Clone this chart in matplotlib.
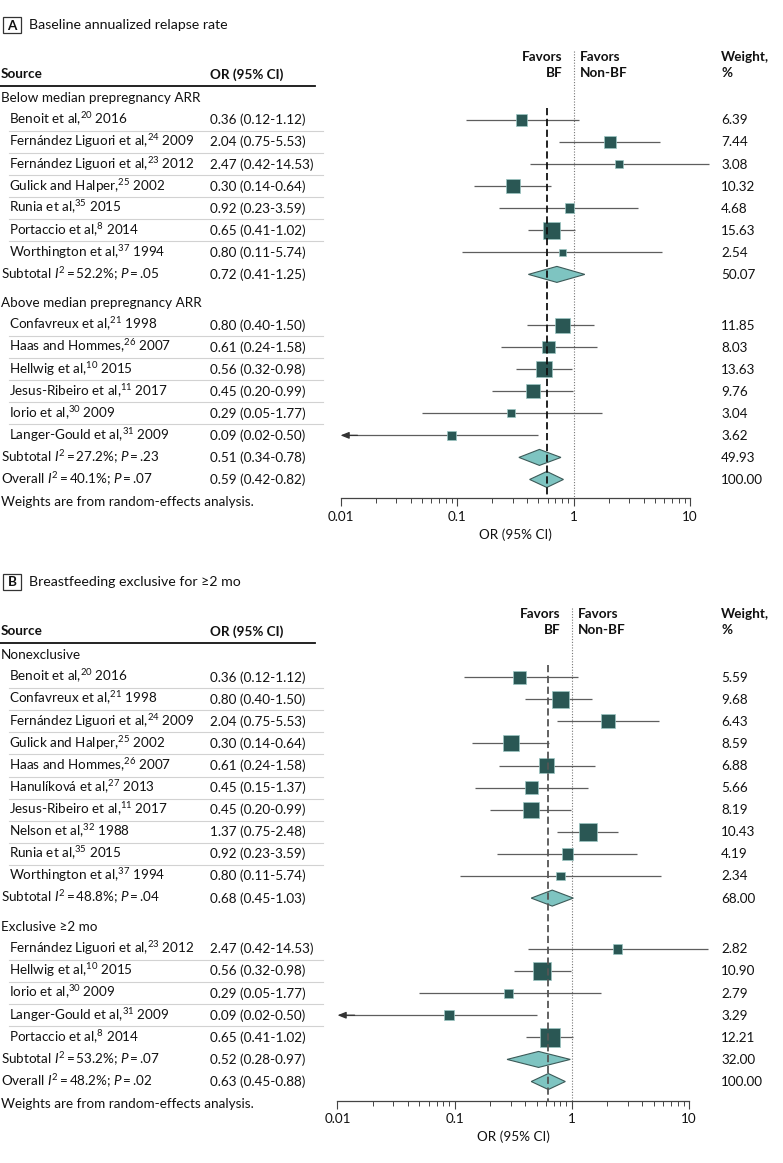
import numpy as np
import matplotlib
matplotlib.use('Agg')
import matplotlib.pyplot as plt
from matplotlib.patches import Polygon, Rectangle
from matplotlib.ticker import FixedLocator, FuncFormatter, LogLocator, NullFormatter

plt.rcParams['font.family'] = ['Lato', 'DejaVu Sans']
plt.rcParams['mathtext.fontset'] = 'custom'
plt.rcParams['mathtext.rm'] = 'Lato'
plt.rcParams['mathtext.it'] = 'Lato:italic'
plt.rcParams['mathtext.bf'] = 'Lato:bold'

W, H = 783, 1163
FS = 9.75

# ── Panel A: baseline annualized relapse rate ─────────────────────────────
a_groups = ['Below median prepregnancy ARR', 'Above median prepregnancy ARR']
a_names = ['Benoit et al', 'Fernández Liguori et al', 'Fernández Liguori et al',
           'Gulick and Halper', 'Runia et al', 'Portaccio et al', 'Worthington et al',
           'Confavreux et al', 'Haas and Hommes', 'Hellwig et al',
           'Jesus-Ribeiro et al', 'Iorio et al', 'Langer-Gould et al']
a_refs = [20, 24, 23, 25, 35, 8, 37, 21, 26, 10, 11, 30, 31]
a_years = [2016, 2009, 2012, 2002, 2015, 2014, 1994, 1998, 2007, 2015, 2017, 2009, 2009]
a_or = [0.36, 2.04, 2.47, 0.30, 0.92, 0.65, 0.80, 0.80, 0.61, 0.56, 0.45, 0.29, 0.09]
a_lo = [0.12, 0.75, 0.42, 0.14, 0.23, 0.41, 0.11, 0.40, 0.24, 0.32, 0.20, 0.05, 0.02]
a_hi = [1.12, 5.53, 14.53, 0.64, 3.59, 1.02, 5.74, 1.50, 1.58, 0.98, 0.99, 1.77, 0.50]
a_wt = [6.39, 7.44, 3.08, 10.32, 4.68, 15.63, 2.54, 11.85, 8.03, 13.63, 9.76, 3.04, 3.62]
a_grp = [0, 0, 0, 0, 0, 0, 0, 1, 1, 1, 1, 1, 1]
a_sub_i2 = ['52.2', '27.2']
a_sub_p = ['.05', '.23']
a_sub_or = [0.72, 0.51]
a_sub_lo = [0.41, 0.34]
a_sub_hi = [1.25, 0.78]
a_sub_wt = [50.07, 49.93]
a_all = ['40.1', '.07', 0.59, 0.42, 0.82]

# ── Panel B: breastfeeding exclusive for >=2 mo ───────────────────────────
b_groups = ['Nonexclusive', 'Exclusive ≥2 mo']
b_names = ['Benoit et al', 'Confavreux et al', 'Fernández Liguori et al',
           'Gulick and Halper', 'Haas and Hommes', 'Hanulíková et al',
           'Jesus-Ribeiro et al', 'Nelson et al', 'Runia et al', 'Worthington et al',
           'Fernández Liguori et al', 'Hellwig et al', 'Iorio et al',
           'Langer-Gould et al', 'Portaccio et al']
b_refs = [20, 21, 24, 25, 26, 27, 11, 32, 35, 37, 23, 10, 30, 31, 8]
b_years = [2016, 1998, 2009, 2002, 2007, 2013, 2017, 1988, 2015, 1994,
           2012, 2015, 2009, 2009, 2014]
b_or = [0.36, 0.80, 2.04, 0.30, 0.61, 0.45, 0.45, 1.37, 0.92, 0.80,
        2.47, 0.56, 0.29, 0.09, 0.65]
b_lo = [0.12, 0.40, 0.75, 0.14, 0.24, 0.15, 0.20, 0.75, 0.23, 0.11,
        0.42, 0.32, 0.05, 0.02, 0.41]
b_hi = [1.12, 1.50, 5.53, 0.64, 1.58, 1.37, 0.99, 2.48, 3.59, 5.74,
        14.53, 0.98, 1.77, 0.50, 1.02]
b_wt = [5.59, 9.68, 6.43, 8.59, 6.88, 5.66, 8.19, 10.43, 4.19, 2.34,
        2.82, 10.90, 2.79, 3.29, 12.21]
b_grp = [0, 0, 0, 0, 0, 0, 0, 0, 0, 0, 1, 1, 1, 1, 1]
b_sub_i2 = ['48.8', '53.2']
b_sub_p = ['.04', '.07']
b_sub_or = [0.68, 0.52]
b_sub_lo = [0.45, 0.28]
b_sub_hi = [1.03, 0.97]
b_sub_wt = [68.00, 32.00]
b_all = ['48.2', '.02', 0.63, 0.45, 0.88]

SQ_COL = '#2a5754'
DIA_COL = '#7ec4c1'
CI_COL = '#5e5e5e'
TXT_COL = '#111111'
TRUNC_BELOW = 0.025   # lower CI drawn as an arrow to the axis edge

fig = plt.figure(figsize=(W / 100, H / 100), dpi=100)
tx = fig.add_axes([0, 0, 1, 1])
tx.set_xlim(0, W)
tx.set_ylim(H, 0)
tx.axis('off')


def row_text(x, y, s, **kw):
    # y is the visual centre of the row; place baseline slightly below
    tx.text(x, y + 4.4, s, fontsize=FS, va='baseline', color=TXT_COL, **kw)


def draw_panel(letter, title, y0, d, pitch, sq_k, x_l, x_r, dash_style):
    # titles and headers
    tx.add_patch(Rectangle((3, y0 - 8), 18, 16, fill=False, ec='#333333', lw=0.9))
    tx.text(12, y0 + 0.5, letter, fontsize=FS, fontweight='bold', ha='center',
            va='center', color=TXT_COL)
    tx.text(29, y0 + 4.4, title, fontsize=FS + 0.4, va='baseline', color=TXT_COL)
    x1 = x_l + (x_r - x_l) * 2 / 3
    fav_y, bf_y = y0 + 32, y0 + 48
    for yy, s in [(fav_y, 'Favors'), (bf_y, 'BF')]:
        row_text(x1 - 11, yy, s, ha='right', fontweight='bold')
    for yy, s in [(fav_y, 'Favors'), (bf_y, 'Non-BF')]:
        row_text(x1 + 6, yy, s, fontweight='bold')
    row_text(721, fav_y, 'Weight,', fontweight='bold')
    row_text(721, bf_y, '%', fontweight='bold')
    row_text(1, y0 + 49, 'Source', fontweight='bold')
    row_text(210, y0 + 49, 'OR (95% CI)', fontweight='bold')
    tx.plot([0, 315], [y0 + 61] * 2, color='#111111', lw=1.3)

    # row positions
    y = y0 + 73
    study_y, sub_y, grp_y = {}, [], []
    for g in range(len(d['groups'])):
        grp_y.append(y)
        idx = [i for i, gg in enumerate(d['grp']) if gg == g]
        for i in idx:
            y += pitch
            study_y[i] = y
        y += pitch
        sub_y.append(y)
        y += pitch * 1.3
    all_y = sub_y[-1] + pitch
    note_y = all_y + pitch
    axis_y = all_y + 19
    top_y = fav_y - 7

    ax = fig.add_axes([x_l / W, 1 - axis_y / H, (x_r - x_l) / W, (axis_y - top_y) / H])
    ax.patch.set_visible(False)
    ax.set_xscale('log')
    ax.set_xlim(0.01, 10)
    ax.set_ylim(axis_y, top_y)
    for sp in ['top', 'left', 'right']:
        ax.spines[sp].set_visible(False)
    ax.spines['bottom'].set_color('#444444')
    ax.spines['bottom'].set_linewidth(0.9)
    ax.xaxis.set_major_locator(FixedLocator([0.01, 0.1, 1, 10]))
    ax.xaxis.set_major_formatter(FuncFormatter(lambda v, p: f'{v:g}'))
    ax.xaxis.set_minor_locator(LogLocator(base=10, subs=np.arange(2, 10)))
    ax.xaxis.set_minor_formatter(NullFormatter())
    ax.tick_params(axis='x', which='major', length=6, width=0.8, color='#444444',
                   labelsize=FS, pad=3, labelcolor=TXT_COL)
    ax.tick_params(axis='x', which='minor', length=3.5, width=0.7, color='#444444')
    ax.set_yticks([])
    ax.set_xlabel('OR (95% CI)', fontsize=FS, labelpad=4, color=TXT_COL)

    # reference lines
    ax.vlines(1, top_y + 1, axis_y, color='#777777', lw=0.8, linestyles=(0, (1, 1.5)))
    ax.vlines(d['all'][2], grp_y[0] + 10, axis_y, color=dash_style[0], lw=1.3,
              linestyles=(0, dash_style[1]), zorder=4)

    # groups, studies, subtotals
    for g, gname in enumerate(d['groups']):
        row_text(1, grp_y[g], gname)
        idx = [i for i, gg in enumerate(d['grp']) if gg == g]
        for k, i in enumerate(idx):
            yy = study_y[i]
            row_text(9, yy, f"{d['names'][i]},$^{{{d['refs'][i]}}}$ {d['years'][i]}")
            row_text(210, yy, f"{d['or'][i]:.2f} ({d['lo'][i]:.2f}-{d['hi'][i]:.2f})")
            row_text(721, yy, f"{d['wt'][i]:.2f}")
            if k < len(idx) - 1:
                tx.plot([9, 323], [yy + pitch / 2] * 2, color='#d2d2d2', lw=0.8)
            if d['lo'][i] < TRUNC_BELOW:
                ax.hlines(yy, 0.0115, d['hi'][i], color=CI_COL, lw=0.9, clip_on=False)
                ax.annotate('', xy=(0.01, yy), xytext=(0.014, yy),
                            arrowprops=dict(arrowstyle='-|>,head_length=0.5,head_width=0.2',
                                            color='#333333', lw=0.9,
                                            shrinkA=0, shrinkB=0),
                            annotation_clip=False)
            else:
                ax.hlines(yy, d['lo'][i], d['hi'][i], color=CI_COL, lw=0.9, clip_on=False)
        ax.scatter([d['or'][i] for i in idx], [study_y[i] for i in idx],
                   s=[(sq_k * np.sqrt(d['wt'][i])) ** 2 for i in idx], marker='s',
                   color=SQ_COL, edgecolor='#9cc7c4', linewidth=0.5, zorder=3,
                   clip_on=False)
        sy = sub_y[g]
        row_text(1, sy, f"Subtotal $\\mathit{{I}}^{{2}}\\,$=$\\,${d['sub_i2'][g]}%; "
                        f"$\\mathit{{P}}\\,$=$\\,${d['sub_p'][g]}")
        row_text(210, sy, f"{d['sub_or'][g]:.2f} ({d['sub_lo'][g]:.2f}-{d['sub_hi'][g]:.2f})")
        row_text(721, sy, f"{d['sub_wt'][g]:.2f}")
        ax.add_patch(Polygon([(d['sub_lo'][g], sy), (d['sub_or'][g], sy - 8),
                              (d['sub_hi'][g], sy), (d['sub_or'][g], sy + 8)],
                             closed=True, fc=DIA_COL, ec='#3c5a58', lw=0.8, zorder=3))

    i2, pv, o, lo, hi = d['all']
    row_text(1, all_y, f"Overall $\\mathit{{I}}^{{2}}\\,$=$\\,${i2}%; $\\mathit{{P}}\\,$=$\\,${pv}")
    row_text(210, all_y, f"{o:.2f} ({lo:.2f}-{hi:.2f})")
    row_text(721, all_y, '100.00')
    ax.add_patch(Polygon([(lo, all_y), (o, all_y - 8), (hi, all_y), (o, all_y + 8)],
                         closed=True, fc=DIA_COL, ec='#3c5a58', lw=0.8, zorder=3))
    row_text(1, note_y, 'Weights are from random-effects analysis.')


panel_a = dict(groups=a_groups, names=a_names, refs=a_refs, years=a_years,
               lo=a_lo, hi=a_hi, wt=a_wt, grp=a_grp, sub_i2=a_sub_i2, sub_p=a_sub_p,
               sub_or=a_sub_or, sub_lo=a_sub_lo, sub_hi=a_sub_hi, sub_wt=a_sub_wt,
               all=a_all)
panel_a['or'] = a_or
panel_b = dict(groups=b_groups, names=b_names, refs=b_refs, years=b_years,
               lo=b_lo, hi=b_hi, wt=b_wt, grp=b_grp, sub_i2=b_sub_i2, sub_p=b_sub_p,
               sub_or=b_sub_or, sub_lo=b_sub_lo, sub_hi=b_sub_hi, sub_wt=b_sub_wt,
               all=b_all)
panel_b['or'] = b_or

draw_panel('A', 'Baseline annualized relapse rate', 25, panel_a, 22.05, 3.17,
           340.5, 690, ('#111111', (4, 2)))
draw_panel('B', 'Breastfeeding exclusive for ≥2 mo', 582, panel_b, 22.1, 3.96,
           337.5, 689, ('#555555', (4, 2)))

fig.savefig('out.png', dpi=100)
